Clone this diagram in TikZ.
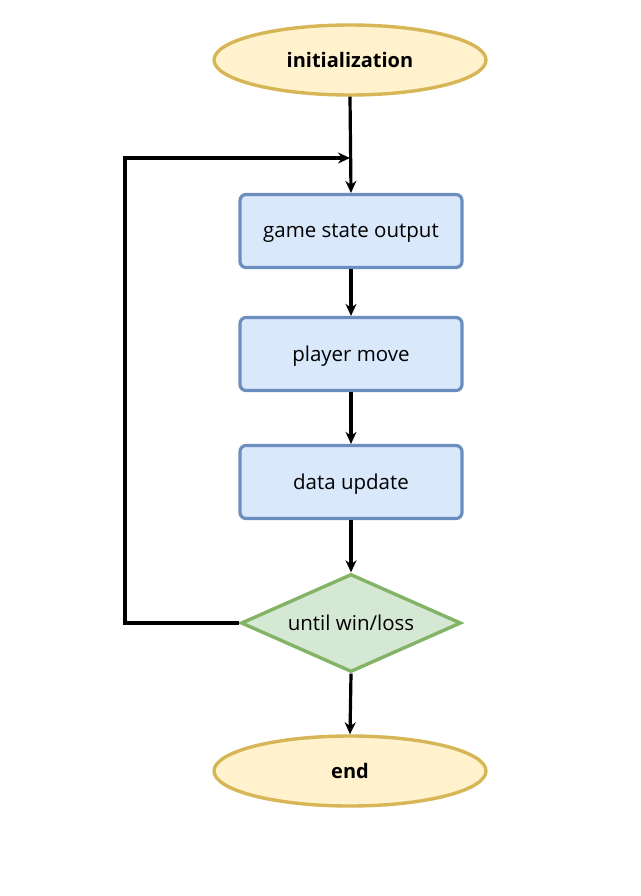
\documentclass[tikz,border=0pt]{standalone}
\usepackage{fontspec}
\setmainfont{Open Sans}
\usetikzlibrary{shapes.geometric,arrows.meta}
\definecolor{yfill}{HTML}{FFF2CC}
\definecolor{ydraw}{HTML}{D6B656}
\definecolor{bfill}{HTML}{DAE8FC}
\definecolor{bdraw}{HTML}{6C8EBF}
\definecolor{gfill}{HTML}{D5E8D4}
\definecolor{gdraw}{HTML}{82B366}
\tikzset{
  term/.style={ellipse, draw=ydraw, fill=yfill, line width=3.4pt, minimum width=272pt, minimum height=70pt, inner sep=0pt, text depth=0pt, font=\fontsize{20}{24}\selectfont\bfseries},
  procbox/.style={rectangle, rounded corners=6pt, draw=bdraw, fill=bfill, line width=3.2pt, minimum width=222pt, minimum height=73pt, inner sep=0pt, text depth=0pt, font=\fontsize{20.5}{24}\selectfont},
  decide/.style={diamond, aspect=2.24, draw=gdraw, fill=gfill, line width=3.4pt, minimum width=220pt, minimum height=98pt, inner sep=0pt, text depth=0pt, font=\fontsize{20.5}{24}\selectfont},
  conn/.style={draw=black, line width=3.2pt, -{Stealth[length=12pt,width=11pt,open,fill=white]}},
}
\begin{document}
\begin{tikzpicture}[x=1pt,y=-1pt]
\useasboundingbox (0,0) rectangle (640,896);
\node[term] (init) at (350,60) {initialization};
\node[procbox] (gso) at (351,231) {game state output};
\node[procbox] (pm) at (351,354) {player move};
\node[procbox] (du) at (351,482) {data update};
\node[decide] (dec) at (351,623) {until win/loss};
\node[term] (end) at (350,771) {end};
\coordinate (loopL) at (125,623);
\coordinate (loopT) at (125,158);
\coordinate (loopE) at (350,158);
\draw[conn] (init.south) -- (gso.north);
\draw[conn] (gso) -- (pm);
\draw[conn] (pm) -- (du);
\draw[conn] (du) -- (dec.north);
\draw[conn] (dec.south) -- (end.north);
\draw[conn] (dec.west) -- (loopL) -- (loopT) -- (loopE);
\end{tikzpicture}
\end{document}
